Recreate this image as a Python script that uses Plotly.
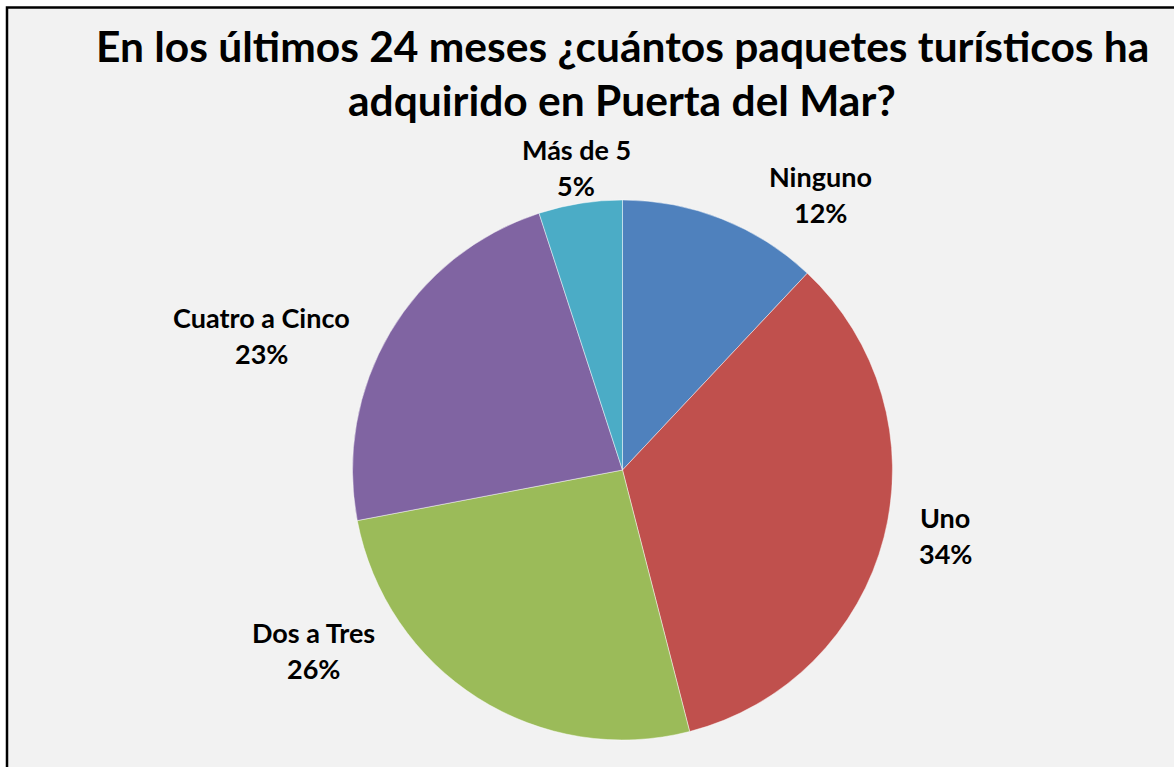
import plotly.graph_objects as go

W, H = 1174, 767

categories = ["Ninguno", "Uno", "Dos a Tres", "Cuatro a Cinco", "Más de 5"]
values = [12, 34, 26, 23, 5]
colors = ["#4f81bd", "#c0504d", "#9bbb59", "#8064a2", "#4bacc6"]
title_lines = ["En los últimos 24 meses ¿cuántos paquetes turísticos ha",
               "adquirido en Puerta del Mar?"]

# label centre positions in pixels (layout, not data)
label_pos = [(820, 194), (945, 535), (313, 650), (261, 335), (576, 167)]

cx, cy, r = 622.5, 470, 270

def px(x):
    return x / W

def py(y):
    return 1 - y / H

fig = go.Figure(go.Pie(
    labels=categories,
    values=values,
    sort=False,
    direction="clockwise",
    rotation=0,
    marker=dict(colors=colors, line=dict(color="rgba(255,255,255,0.45)", width=1)),
    textinfo="none",
    hoverinfo="label+percent",
    showlegend=False,
    domain=dict(x=[px(cx - r), px(cx + r)], y=[py(cy + r), py(cy - r)]),
))

shapes = [dict(type="rect", xref="paper", yref="paper",
               x0=px(7), x1=1.02, y0=-0.02, y1=py(7.5),
               fillcolor="#f2f2f2", line=dict(color="black", width=2.5),
               layer="below")]

ann = []
font_title = dict(family="Lato", size=42.5, color="black")
for i, t in enumerate(title_lines):
    ann.append(dict(text="<b>%s</b>" % t, x=px(622), y=py(46 + 53 * i),
                    xref="paper", yref="paper", showarrow=False,
                    xanchor="center", yanchor="middle", font=font_title))

font_lab = dict(family="Lato", size=27, color="black")
total = sum(values)
for (lx, ly), cat, v in zip(label_pos, categories, values):
    pct = round(100 * v / total)
    ann.append(dict(text="<b>%s</b>" % cat, x=px(lx), y=py(ly - 18),
                    xref="paper", yref="paper", showarrow=False,
                    xanchor="center", yanchor="middle", font=font_lab))
    ann.append(dict(text="<b>%d%%</b>" % pct, x=px(lx), y=py(ly + 18),
                    xref="paper", yref="paper", showarrow=False,
                    xanchor="center", yanchor="middle", font=font_lab))

fig.update_layout(
    width=W, height=H,
    margin=dict(l=0, r=0, t=0, b=0),
    paper_bgcolor="white",
    shapes=shapes,
    annotations=ann,
)

fig.write_html("out.html", post_script="document.body.style.margin='0';",
               config={"displayModeBar": False})
